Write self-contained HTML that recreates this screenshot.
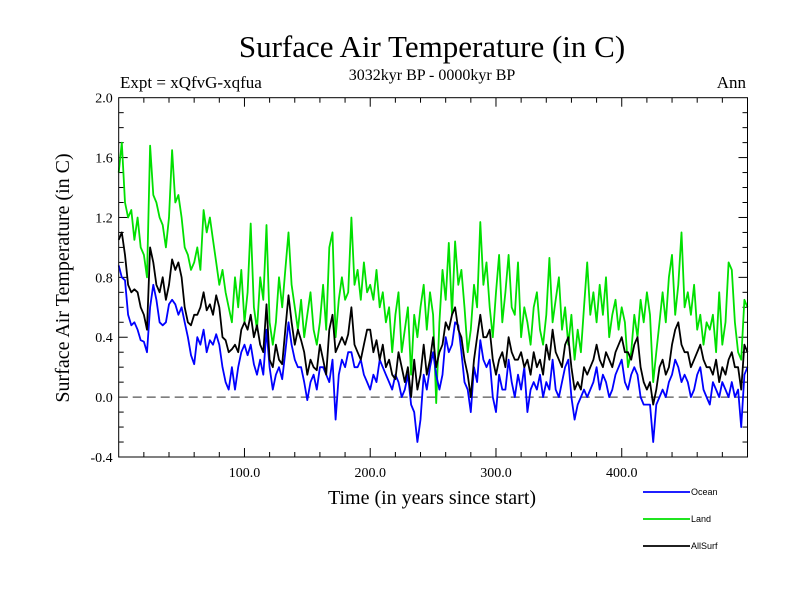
<!DOCTYPE html>
<html><head><meta charset="utf-8"><style>
body{margin:0;background:#fff}
svg{display:block}
text{font-family:"Liberation Serif",serif;fill:#000}
</style></head><body>
<svg id="chart" width="800" height="600">
<text x="432" y="57" font-size="31" text-anchor="middle">Surface Air Temperature (in C)</text>
<text x="432" y="80" font-size="16" text-anchor="middle">3032kyr BP - 0000kyr BP</text>
<text x="120" y="88" font-size="17">Expt = xQfvG-xqfua</text>
<text x="746" y="88" font-size="17" text-anchor="end">Ann</text>
<text x="432" y="504" font-size="20" text-anchor="middle">Time (in years since start)</text>
<text transform="translate(69,278) rotate(-90)" font-size="20" text-anchor="middle">Surface Air Temperature (in C)</text>
<g id="ticks"></g>
<g id="series"></g>
<rect x="118.7" y="97.7" width="628.8" height="359.3" fill="none" stroke="#000" stroke-width="1"/>
<g id="legend"></g>
</svg>
<script>
const xTickValues=[100,200,300,400];
const xTickLabels=["100.0","200.0","300.0","400.0"];
const yTickValues=[-0.4,0,0.4,0.8,1.2,1.6,2.0];
const yTickLabels=["-0.4","0.0","0.4","0.8","1.2","1.6","2.0"];
const seriesNames=["Ocean","Land","AllSurf"];
const seriesColors=["#0000ff","#00e000","#000000"];
const landValues=[1.5,1.7,1.3,1.2,1.25,1.05,1.2,1.0,0.95,0.8,1.68,1.35,1.3,1.2,1.15,1.0,1.2,1.65,1.3,1.35,1.2,1.0,0.95,0.85,0.9,1.0,0.85,1.25,1.1,1.2,1.05,0.9,0.75,0.85,0.7,0.6,0.5,0.8,0.6,0.85,0.5,0.7,1.16,0.6,0.45,0.8,0.65,1.15,0.5,0.35,0.5,0.8,0.6,0.85,1.1,0.75,0.6,0.45,0.65,0.4,0.55,0.7,0.45,0.35,0.5,0.75,0.45,1.0,1.1,0.4,0.65,0.8,0.65,0.7,1.2,0.75,0.85,0.65,0.9,0.7,0.75,0.65,0.85,0.6,0.7,0.5,0.6,0.3,0.55,0.7,0.3,0.45,0.6,0.15,0.55,0.4,
0.6,0.75,0.45,0.7,0.55,-0.04,0.5,0.85,0.65,1.03,0.55,1.04,0.75,0.85,0.6,0.3,0.45,0.75,0.6,1.17,0.75,0.9,0.6,0.4,0.7,0.95,0.5,0.7,0.95,0.6,0.55,0.9,0.4,0.6,0.5,0.35,0.6,0.7,0.45,0.35,0.55,0.93,0.5,0.65,0.8,0.45,0.6,0.35,0.55,0.25,0.45,0.3,0.6,0.9,0.55,0.7,0.5,0.75,0.55,0.8,0.4,0.55,0.65,0.45,0.6,0.5,0.2,0.3,0.55,0.4,0.65,0.5,0.7,0.55,0.1,0.3,0.5,0.7,0.5,0.8,0.95,0.55,0.75,1.1,0.6,0.7,0.55,0.75,0.45,0.55,0.35,0.5,0.45,0.55,0.3,0.7,0.35,0.5,0.9,0.85,0.5,0.3,0.25,0.65,0.6];
const allSurfValues=[1.05,1.1,0.95,0.75,0.7,0.72,0.7,0.6,0.55,0.45,1.0,0.9,0.75,0.7,0.8,0.65,0.75,0.92,0.85,0.9,0.8,0.6,0.5,0.48,0.55,0.55,0.6,0.7,0.58,0.62,0.55,0.68,0.6,0.4,0.38,0.3,0.32,0.35,0.3,0.45,0.5,0.45,0.55,0.4,0.48,0.35,0.3,0.62,0.25,0.2,0.35,0.25,0.22,0.45,0.68,0.5,0.35,0.45,0.38,0.3,0.15,0.25,0.2,0.18,0.35,0.25,0.15,0.45,0.55,0.3,0.35,0.4,0.35,0.42,0.6,0.35,0.3,0.25,0.35,0.45,0.45,0.3,0.38,0.25,0.35,0.2,0.25,0.15,0.12,0.3,0.2,0.1,0.2,0.0,0.25,0.05,
0.15,0.35,0.15,0.25,0.4,0.2,0.3,0.35,0.5,0.45,0.55,0.6,0.45,0.4,0.25,0.15,0.0,0.25,0.4,0.55,0.4,0.4,0.45,0.25,0.15,0.25,0.3,0.2,0.4,0.3,0.25,0.25,0.3,0.2,0.25,0.15,0.3,0.2,0.25,0.15,0.35,0.25,0.45,0.3,0.25,0.2,0.35,0.4,0.2,0.05,0.1,0.05,0.2,0.15,0.2,0.25,0.35,0.25,0.2,0.3,0.25,0.2,0.3,0.35,0.4,0.3,0.3,0.25,0.35,0.4,0.2,0.1,0.05,0.1,-0.05,0.05,0.2,0.25,0.15,0.2,0.35,0.45,0.5,0.35,0.3,0.3,0.2,0.25,0.3,0.35,0.25,0.2,0.2,0.15,0.25,0.1,0.2,0.15,0.25,0.3,0.2,0.2,0.05,0.35,0.3];
const oceanValues=[0.88,0.8,0.78,0.55,0.48,0.5,0.45,0.38,0.37,0.3,0.6,0.75,0.65,0.5,0.48,0.5,0.62,0.65,0.62,0.55,0.6,0.5,0.4,0.28,0.22,0.4,0.35,0.45,0.3,0.38,0.35,0.42,0.35,0.2,0.1,0.05,0.2,0.05,0.2,0.3,0.35,0.28,0.35,0.22,0.15,0.25,0.15,0.45,0.2,0.05,0.15,0.2,0.12,0.3,0.5,0.35,0.25,0.2,0.2,0.1,-0.02,0.1,0.15,0.05,0.2,0.2,0.15,0.1,0.25,-0.15,0.15,0.25,0.2,0.3,0.3,0.2,0.2,0.25,0.15,0.1,0.05,0.15,0.1,0.25,0.2,0.15,0.1,0.05,0.15,0.1,0.0,0.05,0.15,-0.05,-0.1,-0.3,
-0.15,0.15,0.05,0.2,0.3,0.15,0.05,0.15,0.4,0.3,0.35,0.5,0.48,0.3,0.1,0.05,-0.1,0.2,0.1,0.38,0.25,0.2,0.25,0.0,-0.1,0.15,0.05,0.05,0.25,0.1,0.0,0.15,0.05,0.2,-0.1,0.05,0.1,0.05,0.15,0.0,0.1,0.05,0.25,0.05,0.0,0.1,0.2,0.25,0.0,-0.15,-0.05,0.0,0.05,0.0,0.05,0.1,0.2,0.05,0.15,0.1,0.0,0.05,0.15,0.2,0.25,0.1,0.05,0.15,0.2,0.15,0.0,-0.05,-0.05,-0.05,-0.3,-0.05,0.0,0.05,0.0,0.1,0.15,0.25,0.2,0.1,0.15,0.1,0.0,0.05,0.15,0.2,0.05,0.0,-0.05,0.1,0.05,0.0,0.1,0.05,0.0,0.1,0.0,0.05,-0.2,0.15,0.2];

const X0=118.7,X1=747.5,Y0=457,Y1=97.7,XMIN=0,XMAX=500,YMIN=-0.4,YMAX=2.0;
function xs(v){return X0+(v-XMIN)/(XMAX-XMIN)*(X1-X0);}
function ys(v){return Y0-(v-YMIN)/(YMAX-YMIN)*(Y0-Y1);}
const NS="http://www.w3.org/2000/svg";
function mk(tag,attrs,parent){const e=document.createElementNS(NS,tag);for(const k in attrs)e.setAttribute(k,attrs[k]);parent.appendChild(e);return e;}
const tk=document.getElementById('ticks');
// minor x ticks every 20
for(let v=20;v<500;v+=20){const major=v%100===0;const L=major?9:5;
 let t=mk('line',{x1:xs(v),x2:xs(v),y1:Y0,y2:Y0-L,stroke:'#000'},tk);
 
 
 t=mk('line',{x1:xs(v),x2:xs(v),y1:Y1,y2:Y1+L,stroke:'#000'},tk);
 
 }
xTickValues.forEach((v,i)=>{const t=mk('text',{x:xs(v),y:477,'font-size':14,'text-anchor':'middle'},tk);t.textContent=xTickLabels[i];
 
 });
for(let k=-3;k<20;k++){const v=k/10;const major=(k%4===0);const L=major?9:5;
 let t=mk('line',{x1:X0,x2:X0+L,y1:ys(v),y2:ys(v),stroke:'#000'},tk);
 
 
 t=mk('line',{x1:X1,x2:X1-L,y1:ys(v),y2:ys(v),stroke:'#000'},tk);
 
 }
yTickValues.forEach((v,i)=>{const t=mk('text',{x:X0-6,y:ys(v)+5,'font-size':14,'text-anchor':'end'},tk);t.textContent=yTickLabels[i];
 
 });
const zl=mk('line',{x1:X0,x2:X1,y1:ys(0),y2:ys(0),stroke:'#555','stroke-dasharray':'9,5','stroke-width':1.2},tk);


const sg=document.getElementById('series');
const allSeries=[oceanValues,landValues,allSurfValues];
const order=[1,0,2];
order.forEach(si=>{const vals=allSeries[si];const n=vals.length;
 const pts=vals.map((v,i)=>xs(i*(XMAX-XMIN)/(n-1)+XMIN).toFixed(1)+','+ys(v).toFixed(1)).join(' ');
 const p=mk('polyline',{points:pts,fill:'none',stroke:seriesColors[si],'stroke-width':1.8,'stroke-linejoin':'round'},sg);
 
 });
const lg=document.getElementById('legend');
seriesNames.forEach((nm,i)=>{const y=492+i*27;
 const l=mk('line',{x1:643,x2:690,y1:y,y2:y,stroke:seriesColors[i],'stroke-width':1.8},lg);
 
 
 const t=mk('text',{x:691,y:y+3,'font-size':9,style:'font-family:"Liberation Sans",sans-serif'},lg);t.textContent=nm;
 
 });
</script>
</body></html>
